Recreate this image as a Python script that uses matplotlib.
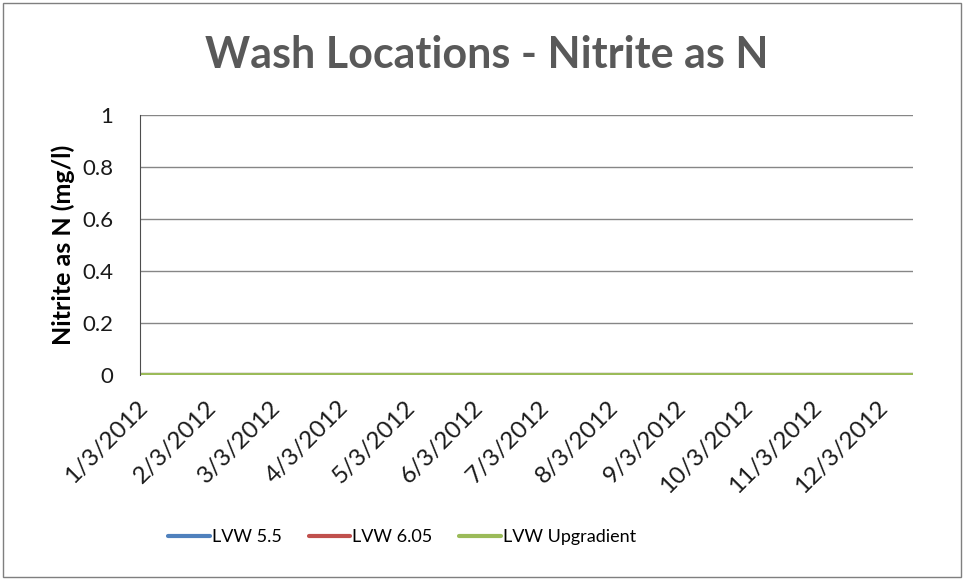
import matplotlib.pyplot as plt
import pandas as pd

# sample dates and values (all results at 0 mg/l)
sample_dates = pd.to_datetime(["2012-01-01", "2012-03-01", "2012-06-01",
                               "2012-09-01", "2012-12-16"])
lvw_55 = [0, 0, 0, 0, 0]
lvw_605 = [0, 0, 0, 0, 0]
lvw_up = [0, 0, 0, 0, 0]

tick_dates = pd.to_datetime(["2012-%02d-03" % m for m in range(1, 13)])
tick_labels = ["%d/3/2012" % m for m in range(1, 13)]
y_ticks = [0, 0.2, 0.4, 0.6, 0.8, 1]

plt.rcParams['font.family'] = ['Lato', 'DejaVu Sans']

fig = plt.figure(figsize=(9.64, 5.8), dpi=100)
ax = fig.add_axes([0.145, 0.353, 0.802, 0.449])

ax.plot(sample_dates, lvw_55, color="#4F81BD", lw=3, label="LVW 5.5", solid_capstyle="round")
ax.plot(sample_dates, lvw_605, color="#C0504D", lw=3, label="LVW 6.05", solid_capstyle="round")
ax.plot(sample_dates, lvw_up, color="#9BBB59", lw=3, label="LVW Upgradient", solid_capstyle="round")

ax.set_xlim(pd.Timestamp("2012-01-01"), pd.Timestamp("2012-12-16"))
ax.set_ylim(0, 1)
ax.set_yticks(y_ticks)
ax.set_yticklabels(["0", "0.2", "0.4", "0.6", "0.8", "1"])
ax.set_xticks(tick_dates)
ax.set_xticklabels(tick_labels, rotation=45, ha="right", va="center", rotation_mode="anchor")
ax.tick_params(axis="y", length=0, labelsize=16, colors="#1a1a1a", pad=19)
ax.tick_params(axis="x", length=0, labelsize=17.5, colors="#1a1a1a", pad=21)
ax.grid(axis="y", color="#868686", lw=1)
ax.set_axisbelow(True)
for s in ["top", "right", "bottom"]:
    ax.spines[s].set_visible(False)
ax.spines["left"].set_color("#4d4d4d")

ax.set_ylabel("Nitrite as N (mg/l)", fontsize=18, fontweight="bold", labelpad=5)

fig.text(0.505, 0.905, "Wash Locations - Nitrite as N", ha="center", va="center",
         fontsize=31, fontweight="bold", color="#595959")

leg = fig.legend(loc="center", bbox_to_anchor=(0.417, 0.074), ncol=3, frameon=False,
                 fontsize=13, handlelength=2.3, handletextpad=0.1, columnspacing=1.5)

fig.patches.append(plt.Rectangle((0.003, 0.005), 0.994, 0.99, transform=fig.transFigure,
                                 fill=False, edgecolor="#7f7f7f", lw=1))

fig.savefig("out.png", dpi=100)
